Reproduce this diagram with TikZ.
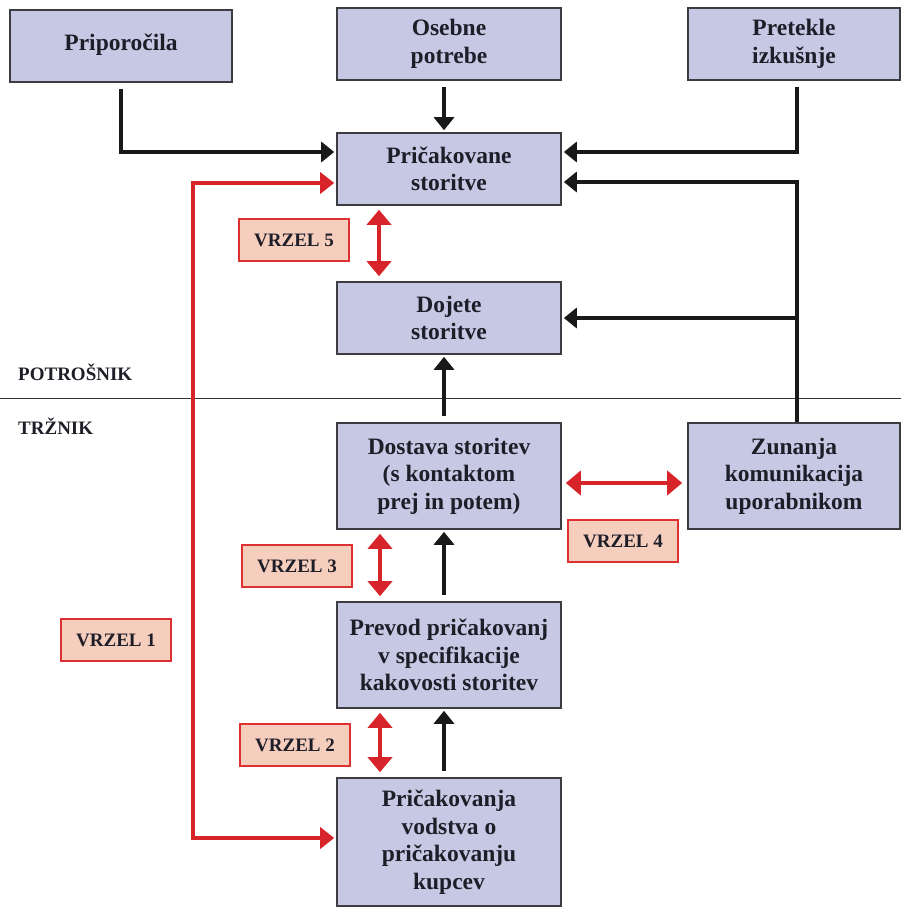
\documentclass[tikz,border=0pt]{standalone}
\usepackage{fontspec}
\setmainfont{Liberation Serif}
\usetikzlibrary{arrows.meta}
\definecolor{boxfill}{RGB}{198,200,228}
\definecolor{boxline}{RGB}{60,60,66}
\definecolor{gapfill}{RGB}{246,206,190}
\definecolor{gapline}{RGB}{222,50,50}
\definecolor{redarr}{RGB}{214,36,42}
\definecolor{blk}{RGB}{25,25,25}
\definecolor{txt}{RGB}{30,30,40}
\tikzset{
  mainbox/.style={draw=boxline, line width=1.6pt, fill=boxfill, align=center,
    font=\fontsize{23.5}{27.5}\selectfont\bfseries, text=txt, inner sep=0pt},
  gapbox/.style={draw=gapline, line width=1.4pt, fill=gapfill, align=center,
    font=\fontsize{19}{22}\selectfont\bfseries, text=txt,
    minimum width=110pt, minimum height=42pt, inner sep=0pt},
  blkarrow/.style={draw=blk, line width=4.5pt,
    -{Triangle[width=20pt,length=13pt]}, shorten <=6pt, shorten >=2pt},
  redlarrow/.style={draw=redarr, line width=4.5pt,
    -{Triangle[width=21pt,length=14pt]}, shorten >=2pt},
  reddbl/.style={draw=redarr, line width=4.5pt,
    {Triangle[width=24pt,length=15pt]}-{Triangle[width=24pt,length=15pt]},
    shorten <=4pt, shorten >=5pt},
  sidelabel/.style={anchor=west, font=\fontsize{19}{22}\selectfont\bfseries,
    text=txt, inner sep=0pt}
}
\begin{document}
\begin{tikzpicture}[x=1pt,y=-1pt]
\useasboundingbox (0,0) rectangle (901,907);
% main boxes
\node[mainbox, minimum width=222pt, minimum height=72pt] (prip) at (121,46) {\raisebox{8pt}{Priporočila}};
\node[mainbox, minimum width=224pt, minimum height=72pt] (oseb) at (449,44) {Osebne\\potrebe};
\node[mainbox, minimum width=212pt, minimum height=72pt] (pret) at (794,44) {Pretekle\\izkušnje};
\node[mainbox, minimum width=224pt, minimum height=72pt] (pric) at (449,169) {Pričakovane\\storitve};
\node[mainbox, minimum width=224pt, minimum height=72pt] (doj) at (449,318) {Dojete\\storitve};
\node[mainbox, minimum width=224pt, minimum height=106pt] (dost) at (449,476) {Dostava storitev\\(s kontaktom\\prej in potem)};
\node[mainbox, minimum width=212pt, minimum height=106pt] (zun) at (794,476) {Zunanja\\komunikacija\\uporabnikom};
\node[mainbox, minimum width=224pt, minimum height=106pt] (prev) at (449,655) {Prevod pričakovanj\\v specifikacije\\kakovosti storitev};
\node[mainbox, minimum width=224pt, minimum height=128pt] (ocek) at (449,842) {Pričakovanja\\vodstva o\\pričakovanju\\kupcev};
% gap labels
\node[gapbox] (v5) at (294,240) {VRZEL 5};
\node[gapbox] (v4) at (623,541) {VRZEL 4};
\node[gapbox] (v3) at (297,566) {VRZEL 3};
\node[gapbox] (v1) at (116,640) {VRZEL 1};
\node[gapbox] (v2) at (295,745) {VRZEL 2};
% divider
\coordinate (dl) at (0,398);
\coordinate (dr) at (901,398);
\draw[line width=1pt, black!80] (dl) -- (dr);
\node[sidelabel] (potr) at (18,372) {POTROŠNIK};
\node[sidelabel] (trz) at (18,426) {TRŽNIK};
% black connectors
\draw[blkarrow] (prip.south) |- ([yshift=17pt]pric.west);
\draw[blkarrow] ([xshift=-5pt]oseb.south) -- ([xshift=-5pt]pric.north);
\draw[blkarrow] ([xshift=3pt]pret.south) |- ([yshift=17pt]pric.east);
\draw[blkarrow, shorten <=0pt] ([xshift=3pt]zun.north) |- ([yshift=-13pt]pric.east);
\coordinate (zb) at ([xshift=3pt]zun.north |- doj.east);
\draw[blkarrow, shorten <=0pt] (zb) -- (doj.east);
\draw[blkarrow] ([xshift=-5pt]dost.north) -- ([xshift=-5pt]doj.south);
\draw[blkarrow] ([xshift=-5pt]prev.north) -- ([xshift=-5pt]dost.south);
\draw[blkarrow] ([xshift=-5pt]ocek.north) -- ([xshift=-5pt]prev.south);
% red L connector (VRZEL 1)
\coordinate (rc) at (193,500);
\draw[redlarrow] (rc) |- ([yshift=-14pt]pric.west);
\draw[redlarrow] (rc) |- ([yshift=4pt]ocek.west);
% red double arrows
\draw[reddbl] ([xshift=-70pt]pric.south) -- ([xshift=-70pt]doj.north);
\draw[reddbl] ([xshift=-69pt]dost.south) -- ([xshift=-69pt]prev.north);
\draw[reddbl] ([xshift=-69pt]prev.south) -- ([xshift=-69pt]ocek.north);
\draw[reddbl] ([yshift=-7pt]dost.east) -- ([yshift=-7pt]zun.west);
\end{tikzpicture}
\end{document}
